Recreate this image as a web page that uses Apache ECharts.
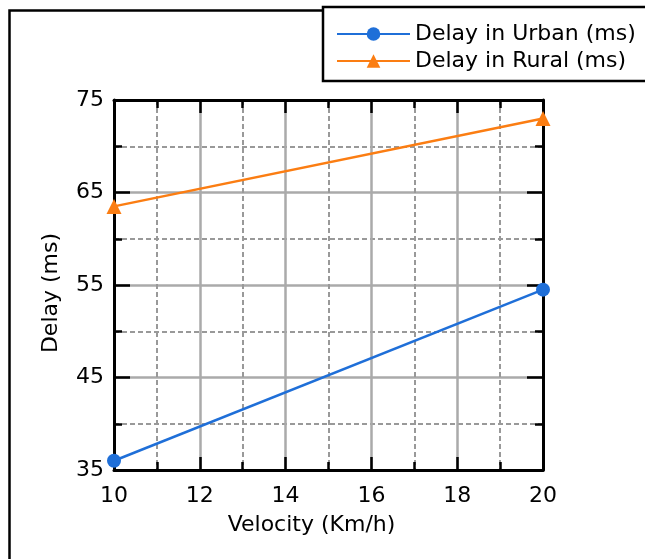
<!DOCTYPE html>
<html><head><meta charset="utf-8">
<script src="https://cdn.jsdelivr.net/npm/echarts@6/dist/echarts.min.js"></script>
<style>html,body{margin:0;padding:0;background:#fff}#c{width:645px;height:559px}</style>
</head><body><div id="c"></div>
<script>
const velocity = [10, 20];
const delayUrban = [36, 54.5];
const delayRural = [63.5, 73];
const seriesNames = ['Delay in Urban (ms)', 'Delay in Rural (ms)'];
const xName = 'Velocity (Km/h)';
const yName = 'Delay (ms)';

const FONT = 'DejaVu Sans';
const chart = echarts.init(document.getElementById('c'), null, {renderer: 'canvas'});

function axisCommon(extra, tickLen) {
  return Object.assign({
    type: 'value',
    axisLine: {show: true, onZero: false, lineStyle: {color: '#000', width: 3}},
    axisTick: {show: true, inside: true, length: tickLen, lineStyle: {color: '#000', width: 2.5}},
    minorTick: {show: true, splitNumber: 2, length: 8, lineStyle: {color: '#000', width: 2.5}},
    axisLabel: {show: false},
    splitLine: {show: false},
    minorSplitLine: {show: false}
  }, extra);
}

const option = {
  animation: false,
  backgroundColor: '#fff',
  textStyle: {fontFamily: FONT},
  graphic: [{
    type: 'rect', left: 7, top: 8, z: -10,
    shape: {width: 700, height: 600},
    style: {fill: 'none', stroke: '#000', lineWidth: 2.5}
  }],
  legend: {
    orient: 'vertical',
    left: 323, top: 7,
    padding: [16, 30, 9, 13],
    backgroundColor: '#fff',
    borderColor: '#000', borderWidth: 2.5, borderRadius: 0,
    itemWidth: 73, itemHeight: 17, itemGap: 5,
    textStyle: {fontFamily: FONT, fontSize: 22, color: '#000'},
    data: seriesNames
  },
  grid: {left: 114, right: 102, top: 100, bottom: 89, containLabel: false},
  xAxis: [
    axisCommon({
      position: 'bottom', min: 10, max: 20, interval: 2,
      name: xName, nameLocation: 'middle', nameGap: 44,
      nameTextStyle: {fontFamily: FONT, fontSize: 22, color: '#000', padding: [0, 34, 0, 0]},
      axisLabel: {show: true, fontFamily: FONT, fontSize: 22, color: '#000', margin: 15},
      splitLine: {show: true, lineStyle: {color: '#aaa', width: 2.5}},
      minorSplitLine: {show: true, lineStyle: {color: '#999', width: 2, type: [5, 3]}}
    }, 13),
    axisCommon({position: 'top', min: 10, max: 20, interval: 2}, 13)
  ],
  yAxis: [
    axisCommon({
      position: 'left', min: 35, max: 75, interval: 10,
      name: yName, nameLocation: 'middle', nameGap: 52,
      nameTextStyle: {fontFamily: FONT, fontSize: 22, color: '#000', padding: [0, 16, 0, 0]},
      axisLabel: {show: true, fontFamily: FONT, fontSize: 22, color: '#000', margin: 10},
      splitLine: {show: true, lineStyle: {color: '#aaa', width: 2.5}},
      minorSplitLine: {show: true, lineStyle: {color: '#999', width: 2, type: [5, 3]}}
    }, 16),
    axisCommon({position: 'right', min: 35, max: 75, interval: 10}, 16)
  ],
  series: [
    {
      name: seriesNames[0], type: 'line', xAxisIndex: 0, yAxisIndex: 0,
      data: velocity.map((v, i) => [v, delayUrban[i]]),
      symbol: 'circle', symbolSize: 14, clip: false,
      lineStyle: {color: '#1f6fd8', width: 2.5},
      itemStyle: {color: '#1f6fd8'},
      z: 5
    },
    {
      name: seriesNames[1], type: 'line', xAxisIndex: 0, yAxisIndex: 0,
      data: velocity.map((v, i) => [v, delayRural[i]]),
      symbol: 'triangle', symbolSize: 15, clip: false,
      lineStyle: {color: '#fb7d12', width: 2.5},
      itemStyle: {color: '#fb7d12'},
      z: 5
    }
  ]
};
chart.setOption(option);
</script>
</body></html>
